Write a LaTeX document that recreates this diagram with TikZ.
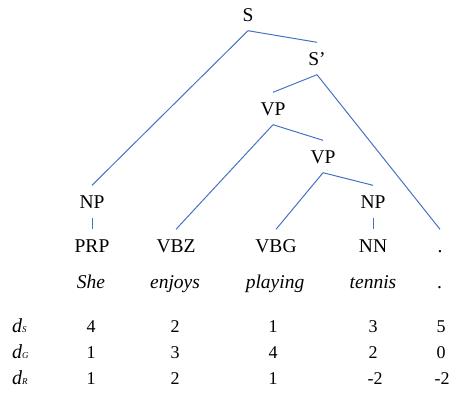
\documentclass[tikz,border=0pt]{standalone}
\usepackage{fontspec}
\setmainfont{Liberation Serif}
\definecolor{edgeblue}{HTML}{4472C4}
\begin{document}
\begin{tikzpicture}[x=1pt,y=-1pt,
  tag/.style={anchor=base, font=\fontsize{19.5}{22}\selectfont,
    text height=13pt, text depth=0pt, inner xsep=1pt, inner ysep=9.5pt},
  word/.style={anchor=base, font=\fontsize{19.5}{22}\selectfont\itshape, inner sep=0pt},
  num/.style={anchor=base, font=\fontsize{18}{20}\selectfont, inner sep=0pt},
  dlab/.style={anchor=base west, inner sep=0pt, font=\itshape},
  branch/.style={draw=edgeblue, line width=1pt}]
\useasboundingbox (0,0) rectangle (454,392);

% constituent labels
\node[tag] (s)    at (248,21)  {S};
\node[tag] (sp)   at (317,65)  {S’};
\node[tag] (vp1)  at (273,115) {VP};
\node[tag] (vp2)  at (323,163) {VP};
\node[tag] (npl)  at (92,208)  {NP};
\node[tag] (npr)  at (373,208) {NP};

% part-of-speech tags
\node[tag] (prp)  at (92,252)  {PRP};
\node[tag] (vbz)  at (176,252) {VBZ};
\node[tag] (vbg)  at (276,252) {VBG};
\node[tag] (nn)   at (373,252) {NN};
\node[tag] (pt)   at (440,252) {.};

% words
\node[word] (w1) at (91,288)  {She};
\node[word] (w2) at (175,288) {enjoys};
\node[word] (w3) at (275,288) {playing};
\node[word] (w4) at (373,288) {tennis};
\node[word] (w5) at (440,288) {.};

% branches
\draw[branch] (s.south)   -- (npl.north);
\draw[branch] (s.south)   -- (sp.north);
\draw[branch] (sp.south)  -- (vp1.north);
\draw[branch] (sp.south)  -- (pt.north);
\draw[branch] (vp1.south) -- (vbz.north);
\draw[branch] (vp1.south) -- (vp2.north);
\draw[branch] (vp2.south) -- (vbg.north);
\draw[branch] (vp2.south) -- (npr.north);
\draw[branch] (npl.south) -- (prp.north);
\draw[branch] (npr.south) -- (nn.north);

% distance rows
\node[dlab] (ds) at (12,332) {{\fontsize{20}{22}\selectfont d}{\fontsize{9}{10}\selectfont S}};
\node[dlab] (dg) at (12,358) {{\fontsize{20}{22}\selectfont d}{\fontsize{9}{10}\selectfont G}};
\node[dlab] (dr) at (12,384) {{\fontsize{20}{22}\selectfont d}{\fontsize{9}{10}\selectfont R}};

\node[num] (s1) at (91,332)  {4};
\node[num] (s2) at (175,332) {2};
\node[num] (s3) at (273,332) {1};
\node[num] (s4) at (373,332) {3};
\node[num] (s5) at (441,332) {5};

\node[num] (g1) at (91,358)  {1};
\node[num] (g2) at (175,358) {3};
\node[num] (g3) at (273,358) {4};
\node[num] (g4) at (373,358) {2};
\node[num] (g5) at (441,358) {0};

\node[num] (r1) at (91,384)  {1};
\node[num] (r2) at (175,384) {2};
\node[num] (r3) at (273,384) {1};
\node[num] (r4) at (375,384) {-2};
\node[num] (r5) at (442,384) {-2};
\end{tikzpicture}
\end{document}
